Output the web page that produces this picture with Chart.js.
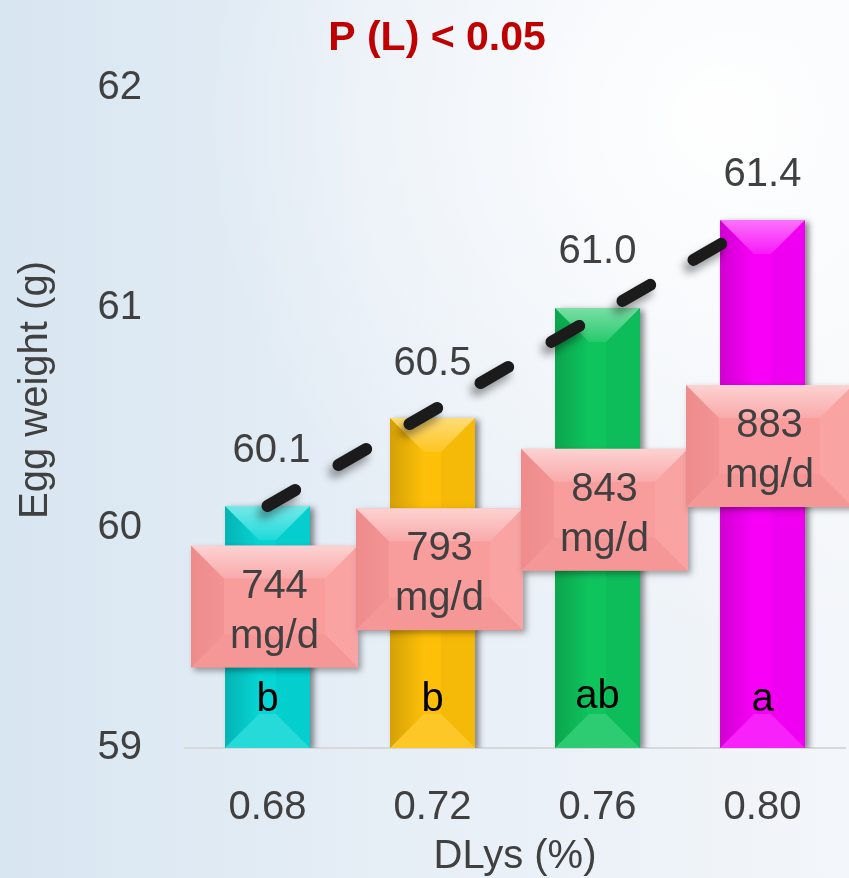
<!DOCTYPE html>
<html>
<head>
<meta charset="utf-8">
<script src="https://cdn.jsdelivr.net/npm/chart.js@4.4.1/dist/chart.umd.min.js"></script>
<style>
  html, body { margin: 0; padding: 0; background: #e6eef5; }
  canvas { display: block; }
</style>
</head>
<body>
<canvas id="chart" width="849" height="878"></canvas>
<script>
// ---- data ----
const doseLabels   = ['0.68', '0.72', '0.76', '0.80'];   // DLys (%)
const eggWeight    = [60.1, 60.5, 61.0, 61.4];            // g
const lysIntake    = [744, 793, 843, 883];                // mg/d
const groupLetters = ['b', 'b', 'ab', 'a'];
const trendEnds    = [60.1, null, null, 61.4];            // linear trend, first to last mean
const yTicks       = [59, 60, 61, 62];
const titleText    = 'P (L) < 0.05';
const yTitle       = 'Egg weight (g)';
const xTitle       = 'DLys (%)';

// ---- look ----
const FONT = '"Liberation Sans", Arial, Helvetica, sans-serif';
const TEXT = '#404040';
const barColors = ['#06D5D5', '#FDBF08', '#0EC45D', '#F800F8'];
const boxTopAt  = [59.92, 60.09, 60.36, 60.65];   // intake boxes, top edge in axis units
const labelLift = [44, 43, 45, 34];               // value label baseline above bar top (px)

function poly(ctx, pts, fill) {
  ctx.beginPath();
  ctx.moveTo(pts[0][0], pts[0][1]);
  for (let i = 1; i < pts.length; i++) ctx.lineTo(pts[i][0], pts[i][1]);
  ctx.closePath();
  ctx.fillStyle = fill;
  ctx.fill();
}

// four-sided chamfer shading over a rectangle
function bevel(ctx, x0, y0, x1, y1, size, shade) {
  const b = Math.min(size, (x1 - x0) / 2, (y1 - y0) / 2);
  const top = ctx.createLinearGradient(0, y0, 0, y0 + b);
  top.addColorStop(0, shade.top[0]); top.addColorStop(1, shade.top[1]);
  const left = ctx.createLinearGradient(x0, 0, x0 + b, 0);
  left.addColorStop(0, shade.left[0]); left.addColorStop(1, shade.left[1]);
  poly(ctx, [[x0, y0], [x1, y0], [x1 - b, y0 + b], [x0 + b, y0 + b]], top);
  poly(ctx, [[x0, y1], [x1, y1], [x1 - b, y1 - b], [x0 + b, y1 - b]], shade.bottom);
  poly(ctx, [[x0, y0], [x0 + b, y0 + b], [x0 + b, y1 - b], [x0, y1]], left);
  poly(ctx, [[x1, y0], [x1 - b, y0 + b], [x1 - b, y1 - b], [x1, y1]], shade.right);
}

const backdrop = {
  id: 'backdrop',
  beforeDraw(chart) {
    const { ctx, width, height } = chart;
    ctx.save();
    const g = ctx.createLinearGradient(0, 0, width, 0);
    g.addColorStop(0, '#d8e6f1');
    g.addColorStop(0.45, '#e6eef6');
    g.addColorStop(1, '#f3f6fa');
    ctx.fillStyle = g;
    ctx.fillRect(0, 0, width, height);
    const r = ctx.createRadialGradient(720, 120, 10, 720, 120, 520);
    r.addColorStop(0, 'rgba(255,255,255,0.95)');
    r.addColorStop(0.5, 'rgba(255,255,255,0.45)');
    r.addColorStop(1, 'rgba(255,255,255,0)');
    ctx.fillStyle = r;
    ctx.fillRect(0, 0, width, height);
    ctx.restore();
  }
};

const shading = {
  id: 'shading',
  beforeDatasetDraw(chart, args) {
    const ctx = chart.ctx;
    ctx.save();
    if (args.meta.type === 'bar') {
      ctx.shadowColor = 'rgba(0,0,0,0.45)';
      ctx.shadowBlur = 6;
      ctx.shadowOffsetX = 4;
      ctx.shadowOffsetY = 2;
    } else {
      ctx.shadowColor = 'rgba(0,0,0,0.40)';
      ctx.shadowBlur = 8;
      ctx.shadowOffsetX = -4;
      ctx.shadowOffsetY = 7;
    }
  },
  afterDatasetDraw(chart, args) {
    const ctx = chart.ctx;
    ctx.restore();
    if (args.meta.type !== 'bar') return;
    const floor = chart.chartArea.bottom;
    ctx.save();
    args.meta.data.forEach(bar => {
      const p = bar.getProps(['x', 'y', 'base', 'width'], true);
      const x0 = p.x - p.width / 2, x1 = p.x + p.width / 2;
      bevel(ctx, x0, p.y, x1, Math.min(p.base, floor), 34, {
        top: ['rgba(255,255,255,0.45)', 'rgba(255,255,255,0.10)'],
        bottom: 'rgba(255,255,255,0.13)',
        left: ['rgba(0,0,0,0.16)', 'rgba(0,0,0,0.0)'],
        right: 'rgba(0,0,0,0.03)'
      });
    });
    ctx.restore();
  }
};

const annotations = {
  id: 'annotations',
  afterDatasetsDraw(chart) {
    const { ctx, scales: { y } } = chart;
    const bars = chart.getDatasetMeta(0).data;
    ctx.save();

    // intake boxes
    const bw = 167, bh = 122;
    lysIntake.forEach((v, i) => {
      const cx = bars[i].x + 7;
      const top = y.getPixelForValue(boxTopAt[i]);
      const x0 = cx - bw / 2, x1 = cx + bw / 2, y1 = top + bh;
      ctx.save();
      ctx.shadowColor = 'rgba(0,0,0,0.35)';
      ctx.shadowBlur = 6;
      ctx.shadowOffsetX = 3;
      ctx.shadowOffsetY = 3;
      ctx.fillStyle = '#F99C9C';
      ctx.fillRect(x0, top, bw, bh);
      ctx.restore();
      bevel(ctx, x0, top, x1, y1, 33, {
        top: ['rgba(255,255,255,0.55)', 'rgba(255,255,255,0.14)'],
        bottom: 'rgba(200,60,60,0.05)',
        left: ['rgba(170,40,40,0.14)', 'rgba(170,40,40,0.08)'],
        right: 'rgba(255,255,255,0.07)'
      });
      ctx.fillStyle = TEXT;
      ctx.font = '40px ' + FONT;
      ctx.textAlign = 'center';
      ctx.textBaseline = 'alphabetic';
      ctx.fillText(String(v), cx, top + 52);
      ctx.fillText('mg/d', cx, top + 102);
    });

    // significance letters inside bars
    ctx.fillStyle = '#000';
    ctx.font = '40px ' + FONT;
    ctx.textAlign = 'center';
    groupLetters.forEach((t, i) => {
      ctx.fillText(t, bars[i].x, y.bottom - 37 - (t === 'ab' ? 3 : 0));
    });

    // mean values above bars
    ctx.fillStyle = TEXT;
    eggWeight.forEach((v, i) => {
      ctx.fillText(v.toFixed(1), bars[i].x + (i === 0 ? 4 : 0), bars[i].y - labelLift[i]);
    });

    // heading
    ctx.fillStyle = '#C00000';
    ctx.font = 'bold 41px ' + FONT;
    ctx.fillText(titleText, 437, 50);

    // vertical axis title
    ctx.fillStyle = TEXT;
    ctx.font = '40px ' + FONT;
    ctx.translate(36, 390);
    ctx.rotate(-Math.PI / 2);
    ctx.textBaseline = 'middle';
    ctx.fillText(yTitle, 0, 0);
    ctx.restore();
  }
};

new Chart(document.getElementById('chart'), {
  data: {
    labels: doseLabels,
    datasets: [
      {
        type: 'bar',
        data: eggWeight,
        base: yTicks[0],
        backgroundColor: barColors,
        borderWidth: 0,
        barPercentage: 0.515,
        categoryPercentage: 1,
        order: 1
      },
      {
        type: 'line',
        data: trendEnds,
        spanGaps: true,
        borderColor: '#1b1b1b',
        borderWidth: 12,
        borderDash: [32, 50],
        borderCapStyle: 'round',
        pointRadius: 0,
        tension: 0,
        fill: false,
        order: 0
      }
    ]
  },
  options: {
    responsive: false,
    devicePixelRatio: 1,
    animation: false,
    layout: { padding: { top: 88, right: 4, left: 0, bottom: 0 } },
    plugins: { legend: { display: false }, tooltip: { enabled: false } },
    scales: {
      x: {
        grid: { display: false },
        border: { display: true, color: '#d6d9dc', width: 2 },
        ticks: { color: TEXT, font: { family: FONT, size: 40 }, padding: 28 },
        title: { display: true, text: xTitle, color: TEXT, font: { family: FONT, size: 40 }, padding: { top: 0, bottom: -3 } },
        afterFit(scale) { scale.height = 130; }
      },
      y: {
        min: 59,
        max: 62,
        grid: { display: false },
        border: { display: false },
        afterBuildTicks(scale) { scale.ticks = yTicks.map(v => ({ value: v })); },
        ticks: { color: TEXT, font: { family: FONT, size: 40 }, padding: 35 },
        afterFit(scale) { scale.width = 185; }
      }
    }
  },
  plugins: [backdrop, shading, annotations]
});
</script>
</body>
</html>
